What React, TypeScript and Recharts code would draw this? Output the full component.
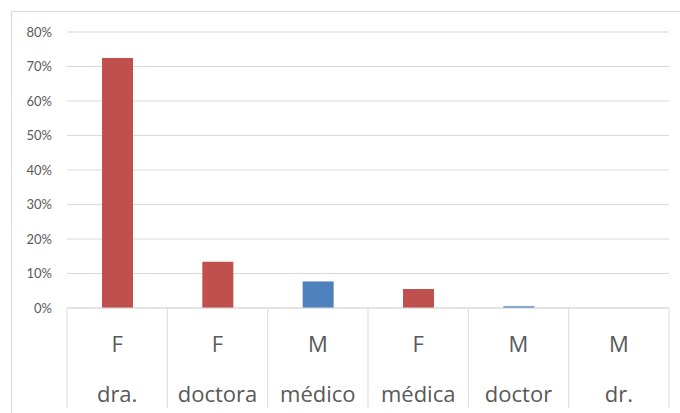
import React from 'react';
import { BarChart, Bar, XAxis, YAxis, CartesianGrid, Cell } from 'recharts';

const words = ['dra.', 'doctora', 'médico', 'médica', 'doctor', 'dr.'];
const genders = ['F', 'F', 'M', 'F', 'M', 'M'];
const shares = [0.725, 0.134, 0.077, 0.055, 0.005, 0.0];
const yTicks = [0, 0.1, 0.2, 0.3, 0.4, 0.5, 0.6, 0.7, 0.8];

const COLORS: Record<string, string> = { F: '#c0504d', M: '#4f81bd' };
const GRID = '#d9d9d9';
const TEXT = '#595959';

const data = words.map((w, i) => ({ word: w, gender: genders[i], value: shares[i] }));

const PLOT_LEFT = 67;
const PLOT_RIGHT = 669;
const BAND = (PLOT_RIGHT - PLOT_LEFT) / words.length;

const XTick = (props: any) => {
  const { x, y, payload, index } = props;
  const base = y - 8;
  const g = genders[index];
  const left = x - BAND / 2;
  const right = x + BAND / 2;
  return (
    <g>
      <line x1={left} y1={base} x2={left} y2={base + 100} stroke={GRID} strokeWidth={1} />
      {index === words.length - 1 && (
        <line x1={right} y1={base} x2={right} y2={base + 100} stroke={GRID} strokeWidth={1} />
      )}
      <text x={x} y={base + 44} textAnchor="middle" fill={TEXT} fontSize={22} fontFamily="Open Sans">
        {g}
      </text>
      <text x={x} y={base + 94} textAnchor="middle" fill={TEXT} fontSize={22} fontFamily="Open Sans">
        {payload.value}
      </text>
    </g>
  );
};

const YTick = (props: any) => {
  const { y, payload } = props;
  return (
    <text x={52} y={y} dy={4.5} textAnchor="end" fill={TEXT} fontSize={13} fontFamily="Lato">
      {Math.round(payload.value * 100) + '%'}
    </text>
  );
};

export default function App() {
  return (
    <div style={{ position: 'absolute', left: 0, top: 0, width: 680, height: 413, overflow: 'hidden', background: '#fff' }}>
      <div
        style={{
          position: 'absolute',
          left: 11,
          top: 11,
          width: 720,
          height: 450,
          border: '1px solid ' + GRID,
          boxSizing: 'border-box',
        }}
      />
      <div style={{ position: 'absolute', left: 0, top: 0 }}>
        <BarChart
          width={680}
          height={413}
          data={data}
          margin={{ top: 32, right: 680 - PLOT_RIGHT, bottom: 0, left: 0 }}
        >
          <CartesianGrid vertical={false} stroke={GRID} strokeWidth={1} />
          <XAxis
            dataKey="word"
            height={105}
            axisLine={{ stroke: GRID }}
            tickLine={false}
            interval={0}
            tick={<XTick />}
          />
          <YAxis
            width={PLOT_LEFT}
            domain={[0, 0.8]}
            ticks={yTicks}
            axisLine={false}
            tickLine={false}
            tick={<YTick />}
          />
          <Bar dataKey="value" barSize={31} isAnimationActive={false}>
            {data.map((d, i) => (
              <Cell key={i} fill={COLORS[d.gender]} />
            ))}
          </Bar>
        </BarChart>
      </div>
    </div>
  );
}
